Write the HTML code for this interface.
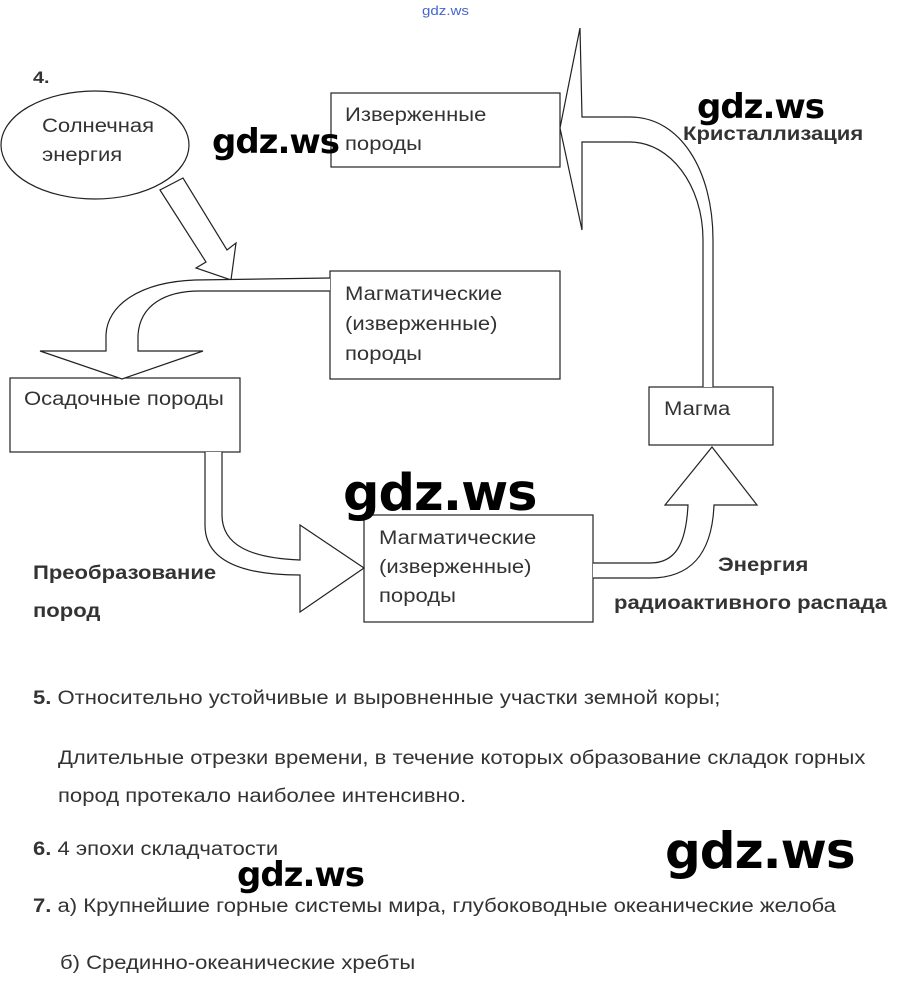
<!DOCTYPE html>
<html><head><meta charset="utf-8"><style>
body{margin:0;background:#fff;width:901px;height:992px;overflow:hidden;position:relative;font-family:"Liberation Sans",sans-serif;}
.t{position:absolute;white-space:nowrap;transform:scaleX(1.16);transform-origin:0 0;}
.wm{position:absolute;font-family:"DejaVu Sans","Liberation Sans",sans-serif;font-weight:bold;color:#000;white-space:nowrap;letter-spacing:-1px}
</style></head><body>
<svg width="901" height="992" style="position:absolute;left:0;top:0" fill="none" stroke="#222" stroke-width="1.2">
<ellipse cx="95" cy="145" rx="94" ry="54" fill="#fff"/>
<polygon points="160,190 206,262 196,268 231,280 236,243 227,250 183,178" fill="#fff"/>
<rect x="331" y="93" width="229" height="74"/>
<rect x="330" y="271" width="230" height="108"/>
<rect x="10" y="378" width="230" height="74"/>
<rect x="649" y="387" width="124" height="58"/>
<rect x="364" y="515" width="229" height="107"/>
<path d="M330,278 L195,280 C140,282 107,305 106,335 L106,351 L40,351 L122,379 L203,351 L138,351 L138,335 C140,305 165,291 200,291 L330,291" fill="#fff"/>
<path d="M703,387 L703,240 C703,185 670,142 630,142 L582,142 L582,230 L560,128 L580,28 L582,117 L630,117 C680,117 713,170 713,240 L713,387" fill="#fff"/>
<path d="M205,452 L205,525 C205,560 240,575 300,575 L300,612 L364,568 L300,525 L300,560 C250,558 222,545 222,515 L222,452" fill="#fff"/>
<path d="M593,563 L650,563 C675,563 686,545 688,505 L665,505 L712,447 L757,505 L714,505 C712,555 690,578 650,578 L593,578" fill="#fff"/>
</svg>
<div class="t" style="left:422px;top:3px;font-size:13px;color:#4466cc">gdz.ws</div>
<div class="t" style="left:33px;top:68px;font-size:17px;font-weight:bold;color:#333">4.</div>
<div class="t" style="left:42px;top:112px;font-size:19px;color:#333;line-height:29px">Солнечная<br>энергия</div>
<div class="t" style="left:345px;top:101px;font-size:19px;color:#333;line-height:29px">Изверженные<br>породы</div>
<div class="t" style="left:345px;top:280px;font-size:19px;color:#333;line-height:30px">Магматические<br>(изверженные)<br>породы</div>
<div class="t" style="left:24px;top:389px;font-size:19px;color:#333">Осадочные породы</div>
<div class="t" style="left:664px;top:399px;font-size:19px;color:#333">Магма</div>
<div class="t" style="left:379px;top:524px;font-size:19px;color:#333;line-height:29px">Магматические<br>(изверженные)<br>породы</div>
<div class="t" style="left:683px;top:124px;font-size:19px;font-weight:bold;color:#333">Кристаллизация</div>
<div class="t" style="left:33px;top:555px;font-size:19px;font-weight:bold;color:#333;line-height:38px">Преобразование<br>пород</div>
<div class="t" style="left:718px;top:555px;font-size:19px;font-weight:bold;color:#333">Энергия</div>
<div class="t" style="left:614px;top:593px;font-size:19px;font-weight:bold;color:#333">радиоактивного распада</div>
<div class="t" style="left:33px;top:688px;font-size:19px;color:#333"><b>5.</b> Относительно устойчивые и выровненные участки земной коры;</div>
<div class="t" style="left:58px;top:740px;font-size:19px;color:#333;line-height:38px">Длительные отрезки времени, в течение которых образование складок горных<br>пород протекало наиболее интенсивно.</div>
<div class="t" style="left:33px;top:839px;font-size:19px;color:#333"><b>6.</b> 4 эпохи складчатости</div>
<div class="t" style="left:33px;top:896px;font-size:19px;color:#333"><b>7.</b> а) Крупнейшие горные системы мира, глубоководные океанические желоба</div>
<div class="t" style="left:60px;top:953px;font-size:19px;color:#333">б) Срединно-океанические хребты</div>
<div class="wm" style="left:212px;top:122px;font-size:34px">gdz.ws</div>
<div class="wm" style="left:697px;top:87px;font-size:34px">gdz.ws</div>
<div class="wm" style="left:343px;top:464px;font-size:51px">gdz.ws</div>
<div class="wm" style="left:665px;top:822px;font-size:50px">gdz.ws</div>
<div class="wm" style="left:237px;top:855px;font-size:34px">gdz.ws</div>
</body></html>
